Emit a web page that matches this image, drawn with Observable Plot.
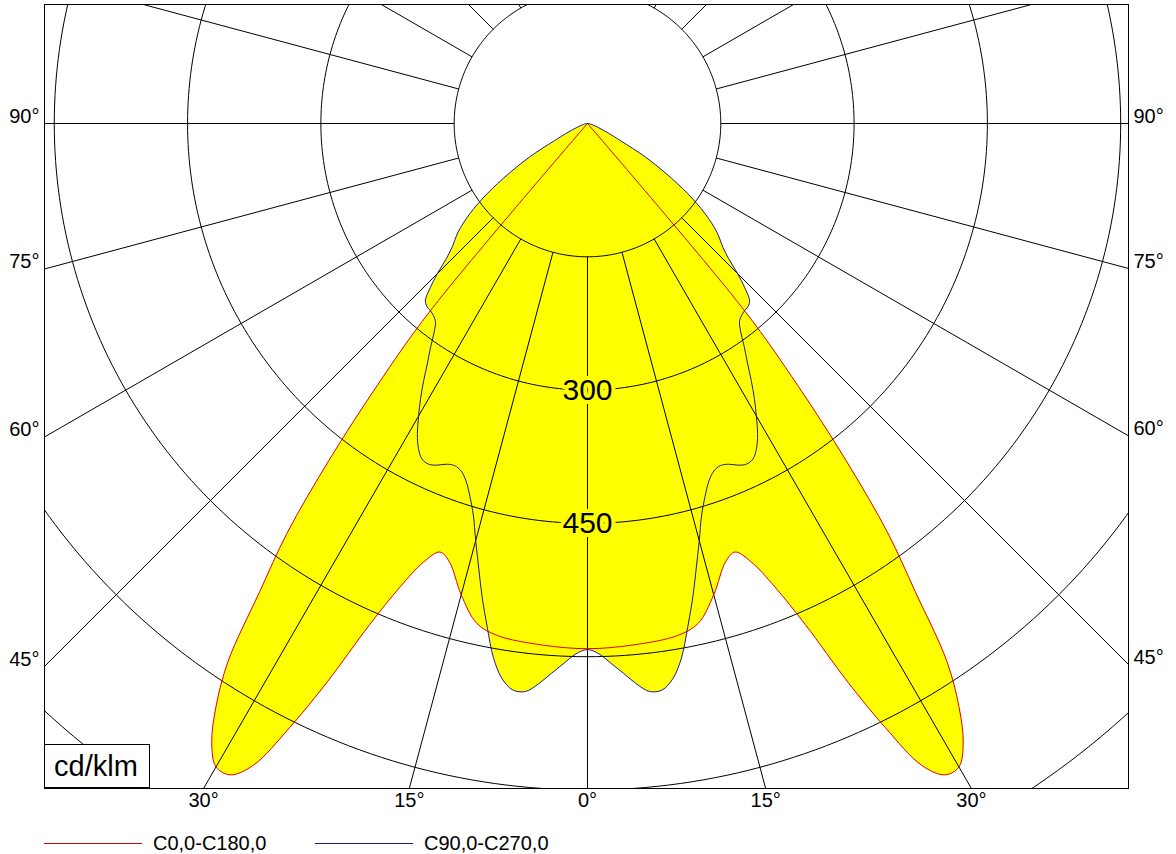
<!DOCTYPE html>
<html><head><meta charset="utf-8">
<script src="https://cdn.jsdelivr.net/npm/d3@7"></script>
<script src="https://cdn.jsdelivr.net/npm/@observablehq/plot@0.6"></script>
<style>
body{margin:0;background:#fff;font-family:"Liberation Sans",Arial,sans-serif;}
#wrap{position:relative;width:1176px;}
#unit{position:absolute;left:44px;top:744px;width:106px;height:44px;border:1px solid #000;background:#fff;font-size:29px;line-height:42px;padding-left:9px;box-sizing:border-box;}
#legend{position:relative;height:34px;margin-top:6px;width:1176px;}
.item{position:absolute;top:0;height:34px;display:flex;align-items:center;font-size:20px;}
.item svg{margin-right:11px;display:block;}
</style></head>
<body>
<div id="wrap"><div id="chart"></div><div id="unit">cd/klm</div></div>
<div id="legend"></div>
<script>
// gamma angles (deg from nadir) and luminous intensity (cd/klm), symmetric planes
const redAngles = [0, 5, 10, 12.5, 15, 17.5, 19, 20.5, 22, 23.5, 25, 26.25, 27.5, 28.75, 30, 31.25, 32.5, 33.75, 35, 36.25, 37.5, 38.75, 40, 42.5];
const redValues = [591, 589, 585, 576, 549, 517, 510, 527, 562, 615, 694, 758, 814, 836, 836, 815, 778, 728, 643, 572, 478, 378, 275, 0];
const blueAngles = [0, 1.25, 2.5, 3.75, 5, 6.25, 7.5, 8.75, 10, 11.25, 12.5, 13.75, 15, 16.25, 17.5, 18.75, 20, 21.25, 22.5, 23.75, 25, 26.25, 27.5, 28.75, 30, 31.25, 32.5, 33.75, 35, 36.25, 37.5, 38.75, 40, 41.25, 42.5, 43.75, 45, 46.25, 47.5, 50, 52.5, 55, 57.5, 60, 62.5, 65, 70, 80, 90];
const blueValues = [592, 597, 608, 620, 633, 643, 643, 632, 610, 578, 547, 515, 486, 459, 440, 425, 416, 413, 415, 420, 423, 421, 412, 398, 380, 362, 343, 324, 308, 292, 281, 277, 275, 274, 270, 256, 239, 220, 207, 190, 167, 138, 105, 75, 42, 27, 12, 3, 0];
const seriesNames = ["C0,0-C180,0", "C90,0-C270,0"];
const seriesColors = ["#e00000", "#1a1a90"];
const ringValues = [150, 300, 450, 600, 750, 900];
const ringLabels = [300, 450];
const rayAngles = d3.range(0, 360, 15);
const sideAngles = [90, 75, 60, 45];
const bottomAngles = [-30, -15, 0, 15, 30];

const xDomain = [-611, 608.8];
const yDomain = [748.3, -133.9];
const rad = Math.PI / 180;

function shape(angles, values) {
  const pts = [];
  for (let i = angles.length - 1; i >= 0; i--) pts.push([-angles[i], values[i]]);
  for (let i = 1; i < angles.length; i++) pts.push([angles[i], values[i]]);
  return pts.map(([a, v]) => ({x: v * Math.sin(a * rad), y: v * Math.cos(a * rad)}));
}
const redShape = shape(redAngles, redValues);
const blueShape = shape(blueAngles, blueValues);

const circlePts = ringValues.flatMap(r => d3.range(0, 361, 1).map(a => ({r, x: r * Math.sin(a * rad), y: r * Math.cos(a * rad)})));
const rays = rayAngles.map(a => ({x1: 150 * Math.sin(a * rad), y1: 150 * Math.cos(a * rad), x2: 2000 * Math.sin(a * rad), y2: 2000 * Math.cos(a * rad)}));
const cot = a => Math.cos(a * rad) / Math.sin(a * rad);

const font = '"Liberation Sans", Arial, sans-serif';
const chart = Plot.plot({
  width: 1176, height: 820,
  marginLeft: 44, marginRight: 48, marginTop: 4, marginBottom: 32,
  x: {domain: xDomain, axis: null},
  y: {domain: yDomain, axis: null},
  style: {background: "#fff", fontFamily: font, fontSize: "20px", color: "#000", overflow: "visible"},
  marks: [
    Plot.line(redShape, {x: "x", y: "y", fill: "#ffff00", stroke: "none", curve: "catmull-rom"}),
    Plot.line(blueShape, {x: "x", y: "y", fill: "#ffff00", stroke: "none", curve: "catmull-rom"}),
    Plot.line(circlePts, {x: "x", y: "y", z: "r", stroke: "#000", strokeWidth: 1, clip: true}),
    Plot.link(rays, {x1: "x1", y1: "y1", x2: "x2", y2: "y2", stroke: "#000", strokeWidth: 1, clip: true}),
    Plot.text(ringLabels, {x: () => 0, y: d => d, text: d => String(d), fontSize: 30, fill: "#000", stroke: "#ffff00", strokeWidth: 8}),
    Plot.line(redShape, {x: "x", y: "y", stroke: seriesColors[0], strokeWidth: 1, curve: "catmull-rom"}),
    Plot.line(blueShape, {x: "x", y: "y", stroke: seriesColors[1], strokeWidth: 1, curve: "catmull-rom"}),
    Plot.frame({stroke: "#000"}),
    Plot.text(sideAngles, {frameAnchor: "left", y: a => -xDomain[0] * cot(a), text: a => a + "°", textAnchor: "end", dx: -5, dy: -7, fontSize: 20}),
    Plot.text(sideAngles, {frameAnchor: "right", y: a => xDomain[1] * cot(a), text: a => a + "°", textAnchor: "start", dx: 5, dy: -7, fontSize: 20}),
    Plot.text(bottomAngles, {frameAnchor: "bottom", x: a => yDomain[0] * Math.tan(a * rad), text: a => Math.abs(a) + "°", dy: 18, fontSize: 20})
  ]
});
document.getElementById("chart").appendChild(chart);

const legend = document.getElementById("legend");
const lefts = [44, 315];
const NS = "http://www.w3.org/2000/svg";
seriesNames.forEach((name, i) => {
  const item = document.createElement("div");
  item.className = "item";
  item.style.left = lefts[i] + "px";
  const svg = document.createElementNS(NS, "svg");
  svg.setAttribute("width", "98");
  svg.setAttribute("height", "4");
  const ln = document.createElementNS(NS, "line");
  ln.setAttribute("x1", "0"); ln.setAttribute("x2", "98");
  ln.setAttribute("y1", "2.5"); ln.setAttribute("y2", "2.5");
  ln.setAttribute("stroke", seriesColors[i]);
  ln.setAttribute("stroke-width", "1");
  ln.setAttribute("shape-rendering", "crispEdges");
  svg.appendChild(ln);
  item.appendChild(svg);
  item.appendChild(document.createTextNode(name));
  legend.appendChild(item);
});
</script>
</body></html>
